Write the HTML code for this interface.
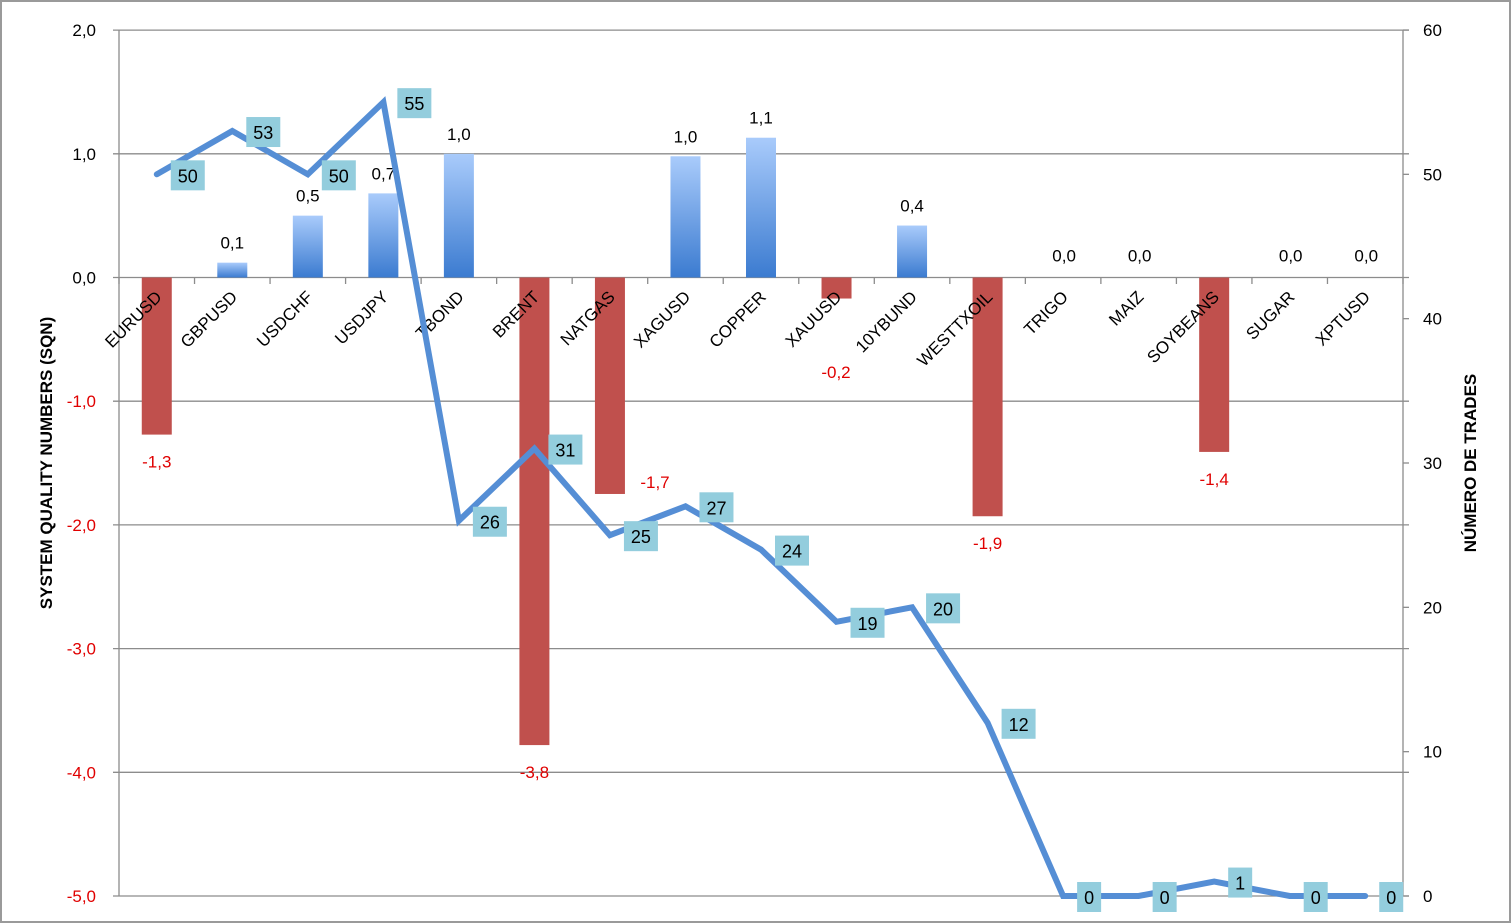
<!DOCTYPE html>
<html><head><meta charset="utf-8"><style>
html,body{margin:0;padding:0;background:#fff;}
svg{display:block;font-family:"Liberation Sans",sans-serif;}
</style></head><body>
<svg width="1512" height="924" viewBox="0 0 1512 924" xmlns="http://www.w3.org/2000/svg">
<defs>
<linearGradient id="bg" x1="0" y1="0" x2="0" y2="1">
<stop offset="0" stop-color="#a9cbfb"/><stop offset="1" stop-color="#3b7bd0"/>
</linearGradient>
</defs>
<rect x="1" y="1" width="1509" height="921" fill="#fff" stroke="#9a9a9a" stroke-width="2"/>
<g id="chart"></g>
</svg>
<script>
const g=document.getElementById('chart');
const NS='http://www.w3.org/2000/svg';
function el(t,a,txt){const e=document.createElementNS(NS,t);for(const k in a)e.setAttribute(k,a[k]);if(txt!==undefined)e.textContent=txt;g.appendChild(e);return e;}
const L=119,R=1403,T=30,B=896;
const yL=v=>277.5-v*123.7;
const yR=v=>B-v*(B-T)/60;
for(let v=2;v>=-5;v--){
 const y=yL(v);
 el('line',{x1:L-6,x2:R+6,y1:y,y2:y,stroke:'#8c8c8c','stroke-width':1.3});
 el('text',{x:96,y:y+6,'text-anchor':'end','font-size':17,fill:v<0?'#e00000':'#000'},(v<0?'-':'')+Math.abs(v).toFixed(1).replace('.',','));
}
for(let v=0;v<=60;v+=10){
 const y=yR(v);
 el('line',{x1:R,x2:R+6,y1:y,y2:y,stroke:'#8c8c8c','stroke-width':1.3});
 el('text',{x:1423,y:y+6,'font-size':17,fill:'#000'},v);
}
el('line',{x1:L,x2:L,y1:T,y2:B,stroke:'#8c8c8c','stroke-width':1.3});
el('line',{x1:R,x2:R,y1:T,y2:B,stroke:'#8c8c8c','stroke-width':1.3});
const cats=['EURUSD','GBPUSD','USDCHF','USDJPY','TBOND','BRENT','NATGAS','XAGUSD','COPPER','XAUUSD','10YBUND','WESTTXOIL','TRIGO','MAIZ','SOYBEANS','SUGAR','XPTUSD'];
const sq=[-1.27,0.12,0.5,0.68,1.0,-3.78,-1.75,0.98,1.13,-0.17,0.42,-1.93,0,0,-1.41,0,0];
const lab=['-1,3','0,1','0,5','0,7','1,0','-3,8','-1,7','1,0','1,1','-0,2','0,4','-1,9','0,0','0,0','-1,4','0,0','0,0'];
const tr=[50,53,50,55,26,31,25,27,24,19,20,12,0,0,1,0,0];
const w=(R-L)/17;
const cx=i=>L+w/2+i*w;
for(let i=0;i<=17;i++){const x=L+i*w;el('line',{x1:x,x2:x,y1:277.5,y2:284,stroke:'#8c8c8c','stroke-width':1.3});}
cats.forEach((c,i)=>{
 const x=cx(i),v=sq[i],y0=yL(0),y1=yL(v);
 if(v>0){el('rect',{x:x-15,y:y1,width:30,height:y0-y1,fill:'url(#bg)'});
  el('text',{x:x,y:y1-14,'text-anchor':'middle','font-size':17},lab[i]);}
 else if(v<0){el('rect',{x:x-15,y:y0,width:30,height:y1-y0,fill:'#c0504d'});
  let lx=x,ly=y1+33;
  if(i===6){lx=655;ly=488;} if(i===9){lx=836;ly=378;}
  el('text',{x:lx,y:ly,'text-anchor':'middle','font-size':17,fill:'#e00000'},lab[i]);}
 else el('text',{x:x+1,y:y0-16,'text-anchor':'middle','font-size':17},lab[i]);
});
cats.forEach((c,i)=>{
 const x=cx(i)+6,y=298;
 el('text',{x:x,y:y,'text-anchor':'end','font-size':17,transform:`rotate(-45 ${x} ${y})`},c);
});
let d='';tr.forEach((v,i)=>{d+=(i?'L':'M')+cx(i).toFixed(1)+' '+yR(v).toFixed(1);});
el('path',{d:d,fill:'none',stroke:'#558ed5','stroke-width':6,'stroke-linejoin':'miter','stroke-linecap':'round'});
tr.forEach((v,i)=>{
 const bw=v>=10?34:24,x=cx(i)+14+bw/2,y=yR(v)+1;
 el('rect',{x:x-bw/2,y:y-15,width:bw,height:30,fill:'#93cddd'});
 el('text',{x:x,y:y+7,'text-anchor':'middle','font-size':18},v);
});
el('text',{x:52,y:463,'text-anchor':'middle','font-size':17,'font-weight':'bold',transform:'rotate(-90 52 463)'},'SYSTEM QUALITY NUMBERS (SQN)');
el('text',{x:1476,y:463,'text-anchor':'middle','font-size':17,'font-weight':'bold',transform:'rotate(-90 1476 463)'},'NÚMERO DE TRADES');
</script>
</body></html>
